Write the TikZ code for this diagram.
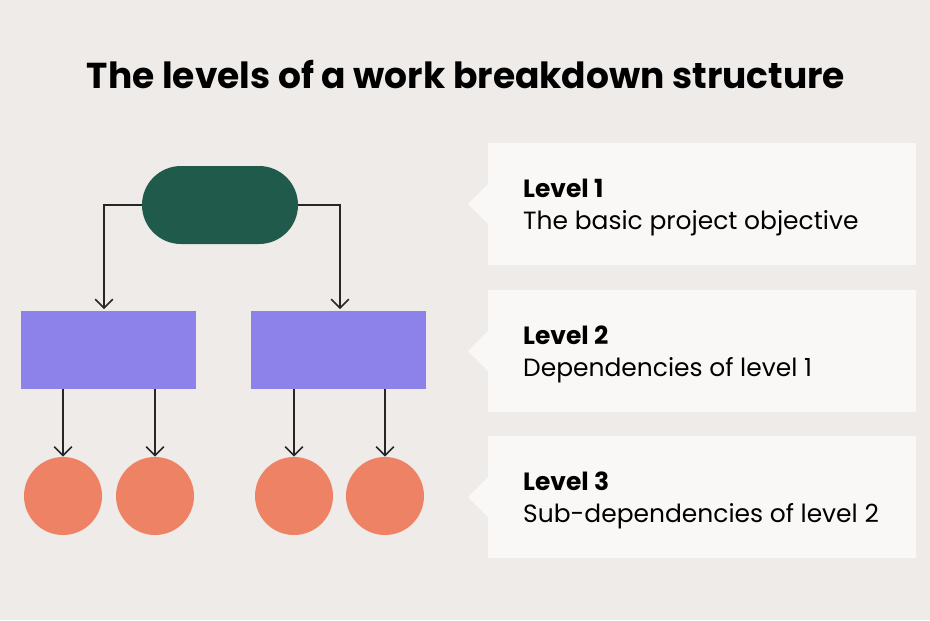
\documentclass[tikz,border=0pt]{standalone}
\usepackage{fontspec}
\setmainfont{Poppins}
\usetikzlibrary{arrows.meta,positioning,calc}
\definecolor{bg}{HTML}{EEEBE9}
\definecolor{topgreen}{HTML}{1F5A4B}
\definecolor{midpurple}{HTML}{8D82EA}
\definecolor{leaforange}{HTML}{EE8264}
\definecolor{card}{HTML}{F9F8F7}
\begin{document}
\begin{tikzpicture}[x=0.02cm,y=-0.02cm,>={Straight Barb[length=5pt,width=10pt]},
  link/.style={draw=black!85,line width=0.9pt,->},
  lvl/.style={anchor=west,font=\fontsize{14.2}{16}\selectfont\bfseries},
  desc/.style={anchor=west,font=\fontsize{14.2}{16}\selectfont}]
  \fill[bg] (0,0) rectangle (930,620);
  \useasboundingbox (0,0) rectangle (930,620);
  \node (title) at (466,75) {\fontsize{20.5}{24}\selectfont\bfseries The levels of a work breakdown structure};

  % tree
  \fill[topgreen,rounded corners=39*0.02cm] (142,166) rectangle (298,244);
  \coordinate (topL) at (142,205);
  \coordinate (topR) at (298,205);
  \fill[midpurple] (21,311) rectangle (196,389);
  \fill[midpurple] (251,311) rectangle (426,389);
  \coordinate (boxA) at (104,309);
  \coordinate (boxB) at (340,309);
  \draw[link] (topL) -| (boxA);
  \draw[link] (topR) -| (boxB);
  \foreach \n/\x in {c1/63,c2/155,c3/294,c4/385} {
    \node[circle,fill=leaforange,minimum size=78*0.02cm,inner sep=0pt] (\n) at (\x,496) {};
    \draw[link] (\x,389) -- (\n.north);
  }

  % cards
  \foreach \y/\lab/\txt in {143/Level 1/The basic project objective,290/Level 2/Dependencies of level 1,436/Level 3/Sub-dependencies of level 2} {
    \fill[card] (488,\y) rectangle (916,\y+122);
    \fill[card] (488,\y+41) -- (468,\y+61) -- (488,\y+81) -- cycle;
    \node[lvl] at (517,\y+45) {\lab};
    \node[desc] at (517,\y+80) {\txt};
  }
\end{tikzpicture}
\end{document}
